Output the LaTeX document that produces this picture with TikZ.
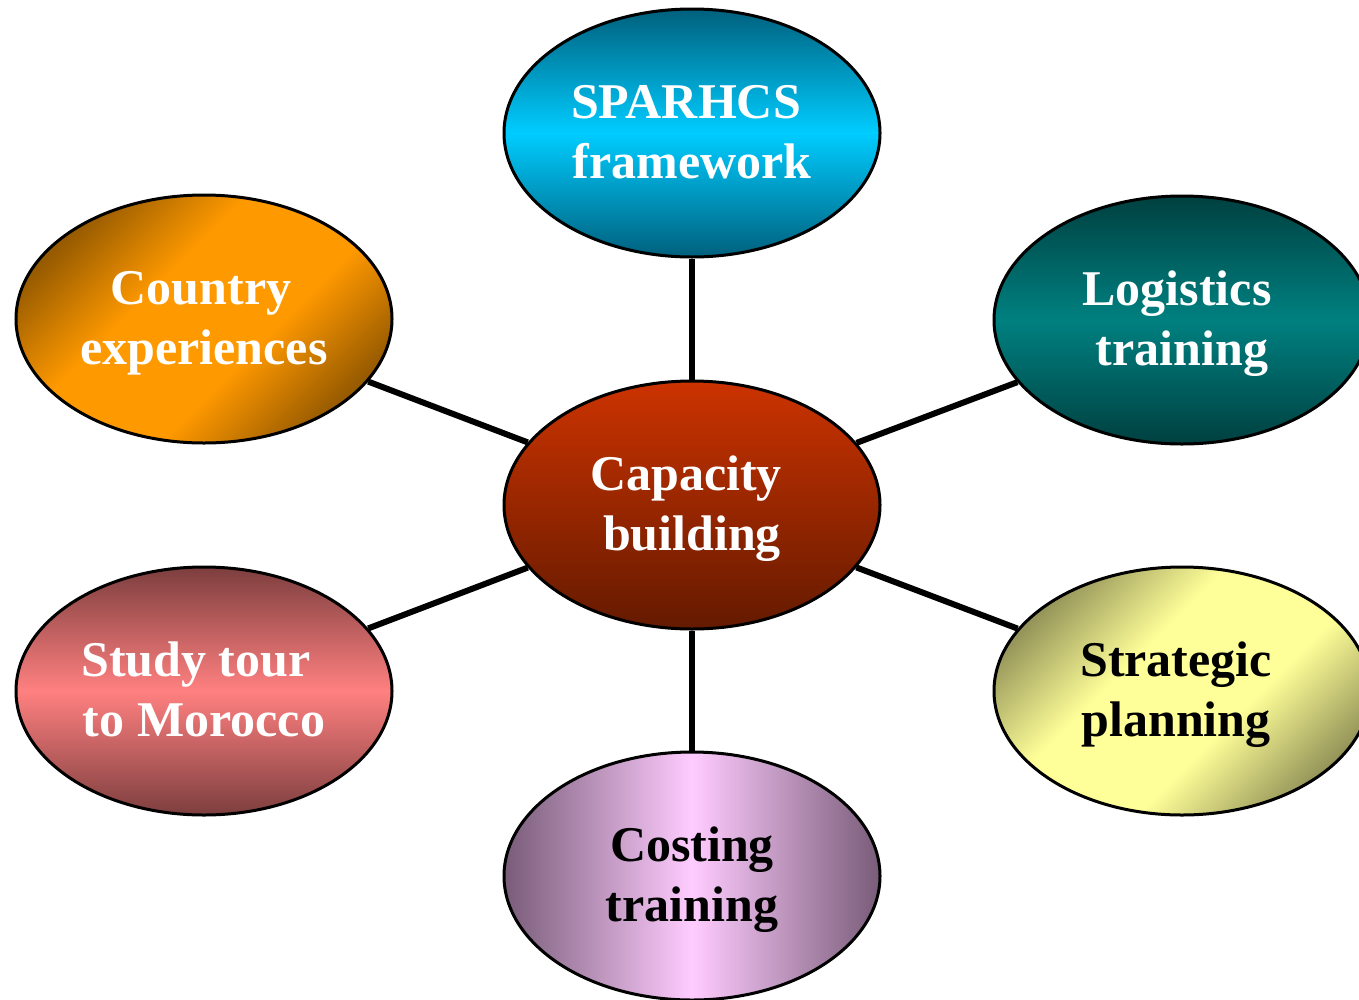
\documentclass[tikz,border=0pt]{standalone}
\usepackage{fontspec}
\setmainfont{Liberation Serif}
\usetikzlibrary{shapes.geometric}
\definecolor{cyanmid}{RGB}{0,204,255}
\definecolor{cyandark}{RGB}{0,96,125}
\definecolor{orgmid}{RGB}{255,153,0}
\definecolor{orgdark}{RGB}{150,90,0}
\definecolor{tealmid}{RGB}{0,128,128}
\definecolor{tealdark}{RGB}{0,64,64}
\definecolor{redtop}{RGB}{204,51,0}
\definecolor{redbot}{RGB}{100,26,0}
\definecolor{pinkmid}{RGB}{255,128,128}
\definecolor{pinkdark}{RGB}{125,62,62}
\definecolor{yelmid}{RGB}{255,255,153}
\definecolor{yeldark}{RGB}{150,150,90}
\definecolor{lilmid}{RGB}{255,204,255}
\definecolor{lildark}{RGB}{120,92,120}
\pgfdeclareverticalshading{diagorange}{100bp}{color(0bp)=(orgdark); color(25bp)=(orgdark); color(41bp)=(orgmid); color(59bp)=(orgmid); color(75bp)=(orgdark); color(100bp)=(orgdark)}
\pgfdeclareverticalshading{diagyellow}{100bp}{color(0bp)=(yeldark); color(25bp)=(yeldark); color(41bp)=(yelmid); color(59bp)=(yelmid); color(75bp)=(yeldark); color(100bp)=(yeldark)}
\newcommand\lbl[2]{\raisebox{-3.5pt}[\height][\depth]{\begin{tabular}{@{}c@{}}#1\\#2\end{tabular}}}
\tikzset{
  bubble/.style={ellipse, draw=black, line width=3pt, minimum width=376pt,
    minimum height=248pt, inner sep=0pt,
    font=\bfseries\fontsize{50}{60}\selectfont},
  link/.style={line width=6pt, draw=black}
}
\begin{document}
\begin{tikzpicture}[x=1pt,y=-1pt]
\useasboundingbox (0,0) rectangle (1359,999);
\clip (0,0) rectangle (1359,999);
\node[bubble, text=white, top color=cyandark, bottom color=cyandark, middle color=cyanmid] (spar) at (692,133) {\lbl{SPARHCS\kern12pt}{framework}};
\node[bubble, text=white, shading=diagorange, shading angle=45] (country) at (204,319) {\lbl{Country\kern6pt}{experiences}};
\node[bubble, text=white, top color=tealdark, bottom color=tealdark, middle color=tealmid] (logi) at (1182,320) {\lbl{Logistics\kern10pt}{training}};
\node[bubble, text=white, top color=redtop, bottom color=redbot] (cap) at (692,505) {\lbl{Capacity\kern12pt}{building}};
\node[bubble, text=white, top color=pinkdark, bottom color=pinkdark, middle color=pinkmid] (study) at (204,691) {\lbl{Study tour\kern16pt}{to Morocco}};
\node[bubble, text=black, shading=diagyellow, shading angle=45] (strat) at (1182,691) {\lbl{Strategic\kern12pt}{planning\kern12pt}};
\node[bubble, text=black, left color=lildark, right color=lildark, middle color=lilmid] (cost) at (692,876) {\lbl{Costing}{training}};
\draw[link] (cap) -- (spar);
\draw[link] (cap) -- (country);
\draw[link] (cap) -- (logi);
\draw[link] (cap) -- (study);
\draw[link] (cap) -- (strat);
\draw[link] (cap) -- (cost);
\end{tikzpicture}
\end{document}
